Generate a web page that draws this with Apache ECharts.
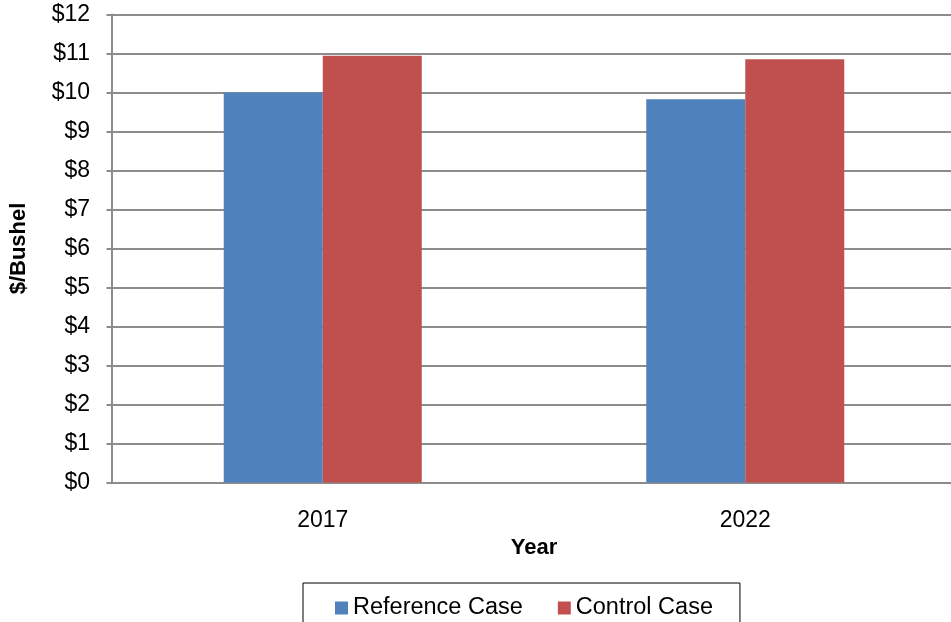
<!DOCTYPE html>
<html>
<head>
<meta charset="utf-8">
<script src="https://cdn.jsdelivr.net/npm/echarts@6/dist/echarts.min.js"></script>
<style>html,body{margin:0;padding:0;background:#fff;overflow:hidden}#c{width:960px;height:622px}</style>
</head>
<body>
<div id="c"></div>
<script>
var categories = ['2017', '2022'];
var referenceCase = [10.0, 9.83];
var controlCase = [10.94, 10.85];
var yTicks = { min: 0, max: 12, interval: 1 };

var chart = echarts.init(document.getElementById('c'), null, { renderer: 'canvas' });
var font = 'Liberation Sans, Arial, sans-serif';
chart.setOption({
  animation: false,
  textStyle: { fontFamily: font },
  grid: { left: 111.5, top: 14.5, width: 845, bottom: 139.5, containLabel: false },
  legend: {
    left: 303, top: 583,
    padding: [13, 27, 20, 32],
    borderColor: '#000', borderWidth: 1,
    itemWidth: 13, itemHeight: 13, itemGap: 35,
    icon: 'rect',
    textStyle: { fontFamily: font, fontSize: 23.5, color: '#000' },
    data: ['Reference Case', 'Control Case']
  },
  xAxis: {
    type: 'category', data: categories,
    name: 'Year', nameLocation: 'middle', nameGap: 52,
    nameTextStyle: { fontFamily: font, fontSize: 22, fontWeight: 'bold', color: '#000' },
    axisLine: { lineStyle: { color: '#8c8c8c', width: 2 } },
    axisTick: { show: false },
    axisLabel: { fontFamily: font, fontSize: 23, color: '#000', margin: 27 }
  },
  yAxis: {
    type: 'value', min: yTicks.min, max: yTicks.max, interval: yTicks.interval,
    name: '$/Bushel', nameLocation: 'middle', nameGap: 81.5,
    nameTextStyle: { fontFamily: font, fontSize: 22, fontWeight: 'bold', color: '#000' },
    axisLine: { show: true, lineStyle: { color: '#8c8c8c', width: 2 } },
    axisTick: { show: true, length: 5, lineStyle: { color: '#8c8c8c', width: 2 } },
    splitLine: { lineStyle: { color: '#8c8c8c', width: 2 } },
    axisLabel: { fontFamily: font, fontSize: 23, color: '#000', margin: 21.5,
      formatter: function (v) { return '$' + v; } }
  },
  series: [
    { name: 'Reference Case', type: 'bar', data: referenceCase, barWidth: 99, barGap: '0%',
      itemStyle: { color: '#4F81BD' } },
    { name: 'Control Case', type: 'bar', data: controlCase, barWidth: 99, barGap: '0%',
      itemStyle: { color: '#C0504D' } }
  ]
});
</script>
</body>
</html>
